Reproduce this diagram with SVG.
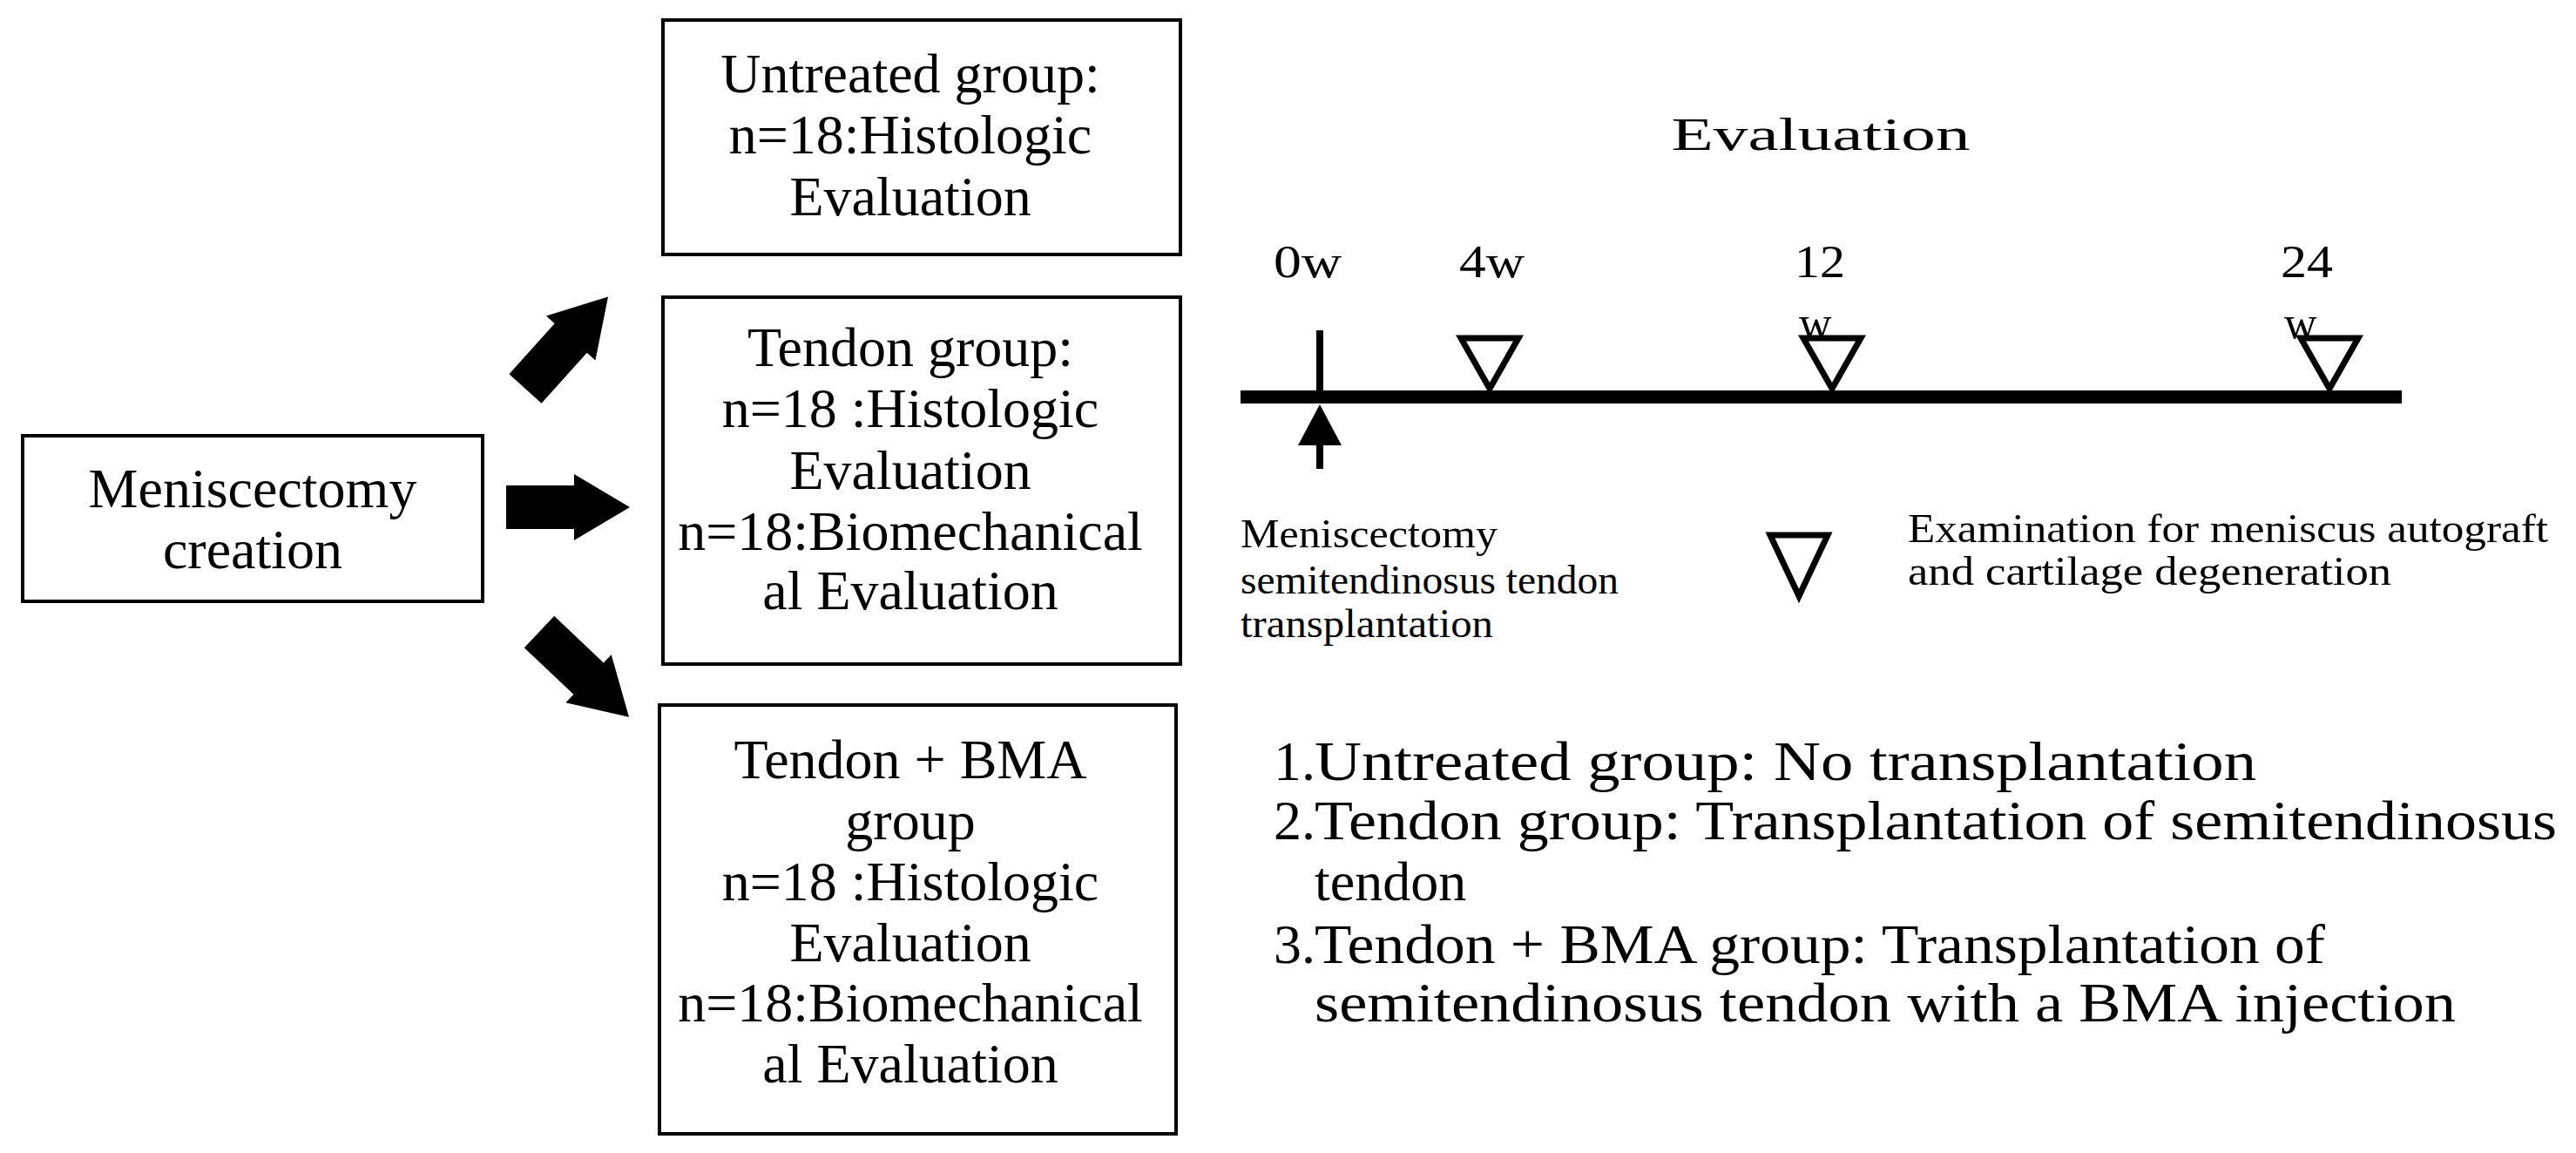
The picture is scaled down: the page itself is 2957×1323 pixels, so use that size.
<svg xmlns="http://www.w3.org/2000/svg" width="2957" height="1323" viewBox="0 0 2957 1323">
<style>
.box{fill:#fff;stroke:#000;stroke-width:4}
.t{font-family:"Liberation Serif",serif;font-size:64px;fill:#000;text-anchor:middle}
.l{font-family:"Liberation Serif",serif;font-size:64px;fill:#000}
.s{font-family:"Liberation Serif",serif;font-size:46px;fill:#000}
.w{font-family:"Liberation Serif",serif;font-size:52px;fill:#000}
.tri{fill:#fff;stroke:#000;stroke-width:7}
</style>
<defs>
<polygon id="arr" points="0,-25 78,-25 78,-38 142,0 78,38 78,25 0,25" fill="#000"/>
</defs>
<rect width="2957" height="1323" fill="#fff"/>
<g id="meniscectomy"><rect class="box" x="26" y="500" width="528" height="190"/>
<text class="t" x="290" y="582">Meniscectomy</text><text class="t" x="290" y="652">creation</text></g>
<g id="untreated"><rect class="box" x="761" y="23" width="594" height="269"/>
<text class="t" x="1045" y="106">Untreated group:</text><text class="t" x="1045" y="176">n=18:Histologic</text><text class="t" x="1045" y="247">Evaluation</text></g>
<g id="tendon"><rect class="box" x="761" y="341" width="594" height="421"/>
<text class="t" x="1045" y="420">Tendon group:</text><text class="t" x="1045" y="490">n=18 :Histologic</text><text class="t" x="1045" y="561">Evaluation</text><text class="t" x="1045" y="631">n=18:Biomechanical</text><text class="t" x="1045" y="699">al Evaluation</text></g>
<g id="bma"><rect class="box" x="757" y="809" width="593" height="492"/>
<text class="t" x="1045" y="893">Tendon + BMA</text><text class="t" x="1045" y="963">group</text><text class="t" x="1045" y="1033">n=18 :Histologic</text><text class="t" x="1045" y="1103">Evaluation</text><text class="t" x="1045" y="1172">n=18:Biomechanical</text><text class="t" x="1045" y="1242">al Evaluation</text></g>
<g id="connectors">
<use href="#arr" transform="translate(603,446) rotate(-48)"/>
<use href="#arr" transform="translate(581,582)"/>
<use href="#arr" transform="translate(619,725) rotate(43.5)"/>
</g>
<g id="timeline">
<text class="w" x="2090" y="172" text-anchor="middle" font-size="80" textLength="343" lengthAdjust="spacingAndGlyphs">Evaluation</text>
<rect x="1424" y="448" width="1333" height="15" fill="#000"/>
<rect x="1511" y="379" width="8" height="70" fill="#000"/>
<polygon points="1515,464 1540,511 1519,511 1519,538 1511,538 1511,511 1490,511" fill="#000"/>
<text class="w" x="1462" y="318" textLength="78" lengthAdjust="spacingAndGlyphs">0w</text>
<text class="w" x="1675" y="318" textLength="75" lengthAdjust="spacingAndGlyphs">4w</text>
<text class="w" x="2060" y="318" textLength="58" lengthAdjust="spacingAndGlyphs">12</text>
<text class="w" x="2065" y="388">w</text>
<text class="w" x="2618" y="318" textLength="60" lengthAdjust="spacingAndGlyphs">24</text>
<text class="w" x="2622" y="388">w</text>
<polygon class="tri" points="1677,388 1743,388 1710,446"/>
<polygon class="tri" points="2070,388 2136,388 2103,446"/>
<polygon class="tri" points="2641,388 2707,388 2674,446"/>
<text class="s" x="1424" y="628" textLength="295" lengthAdjust="spacingAndGlyphs">Meniscectomy</text>
<text class="s" x="1424" y="681" textLength="434" lengthAdjust="spacingAndGlyphs">semitendinosus  tendon</text>
<text class="s" x="1424" y="731" textLength="290" lengthAdjust="spacingAndGlyphs">transplantation</text>
<polygon class="tri" points="2032,614 2098,614 2065,684"/>
<text class="s" x="2190" y="622" textLength="735" lengthAdjust="spacingAndGlyphs">Examination for meniscus  autograft</text>
<text class="s" x="2190" y="671" textLength="555" lengthAdjust="spacingAndGlyphs">and  cartilage degeneration</text>
</g>
<g id="list">
<text class="l" x="1462" y="895">1.</text><text class="l" x="1509" y="895" textLength="1081" lengthAdjust="spacingAndGlyphs">Untreated group: No transplantation</text>
<text class="l" x="1462" y="963">2.</text><text class="l" x="1509" y="963" textLength="1426" lengthAdjust="spacingAndGlyphs">Tendon group: Transplantation of semitendinosus</text>
<text class="l" x="1509" y="1033">tendon</text>
<text class="l" x="1462" y="1105">3.</text><text class="l" x="1509" y="1105" textLength="1160" lengthAdjust="spacingAndGlyphs">Tendon + BMA group: Transplantation of</text>
<text class="l" x="1509" y="1172" textLength="1310" lengthAdjust="spacingAndGlyphs">semitendinosus tendon with a BMA injection</text>
</g>
</svg>
